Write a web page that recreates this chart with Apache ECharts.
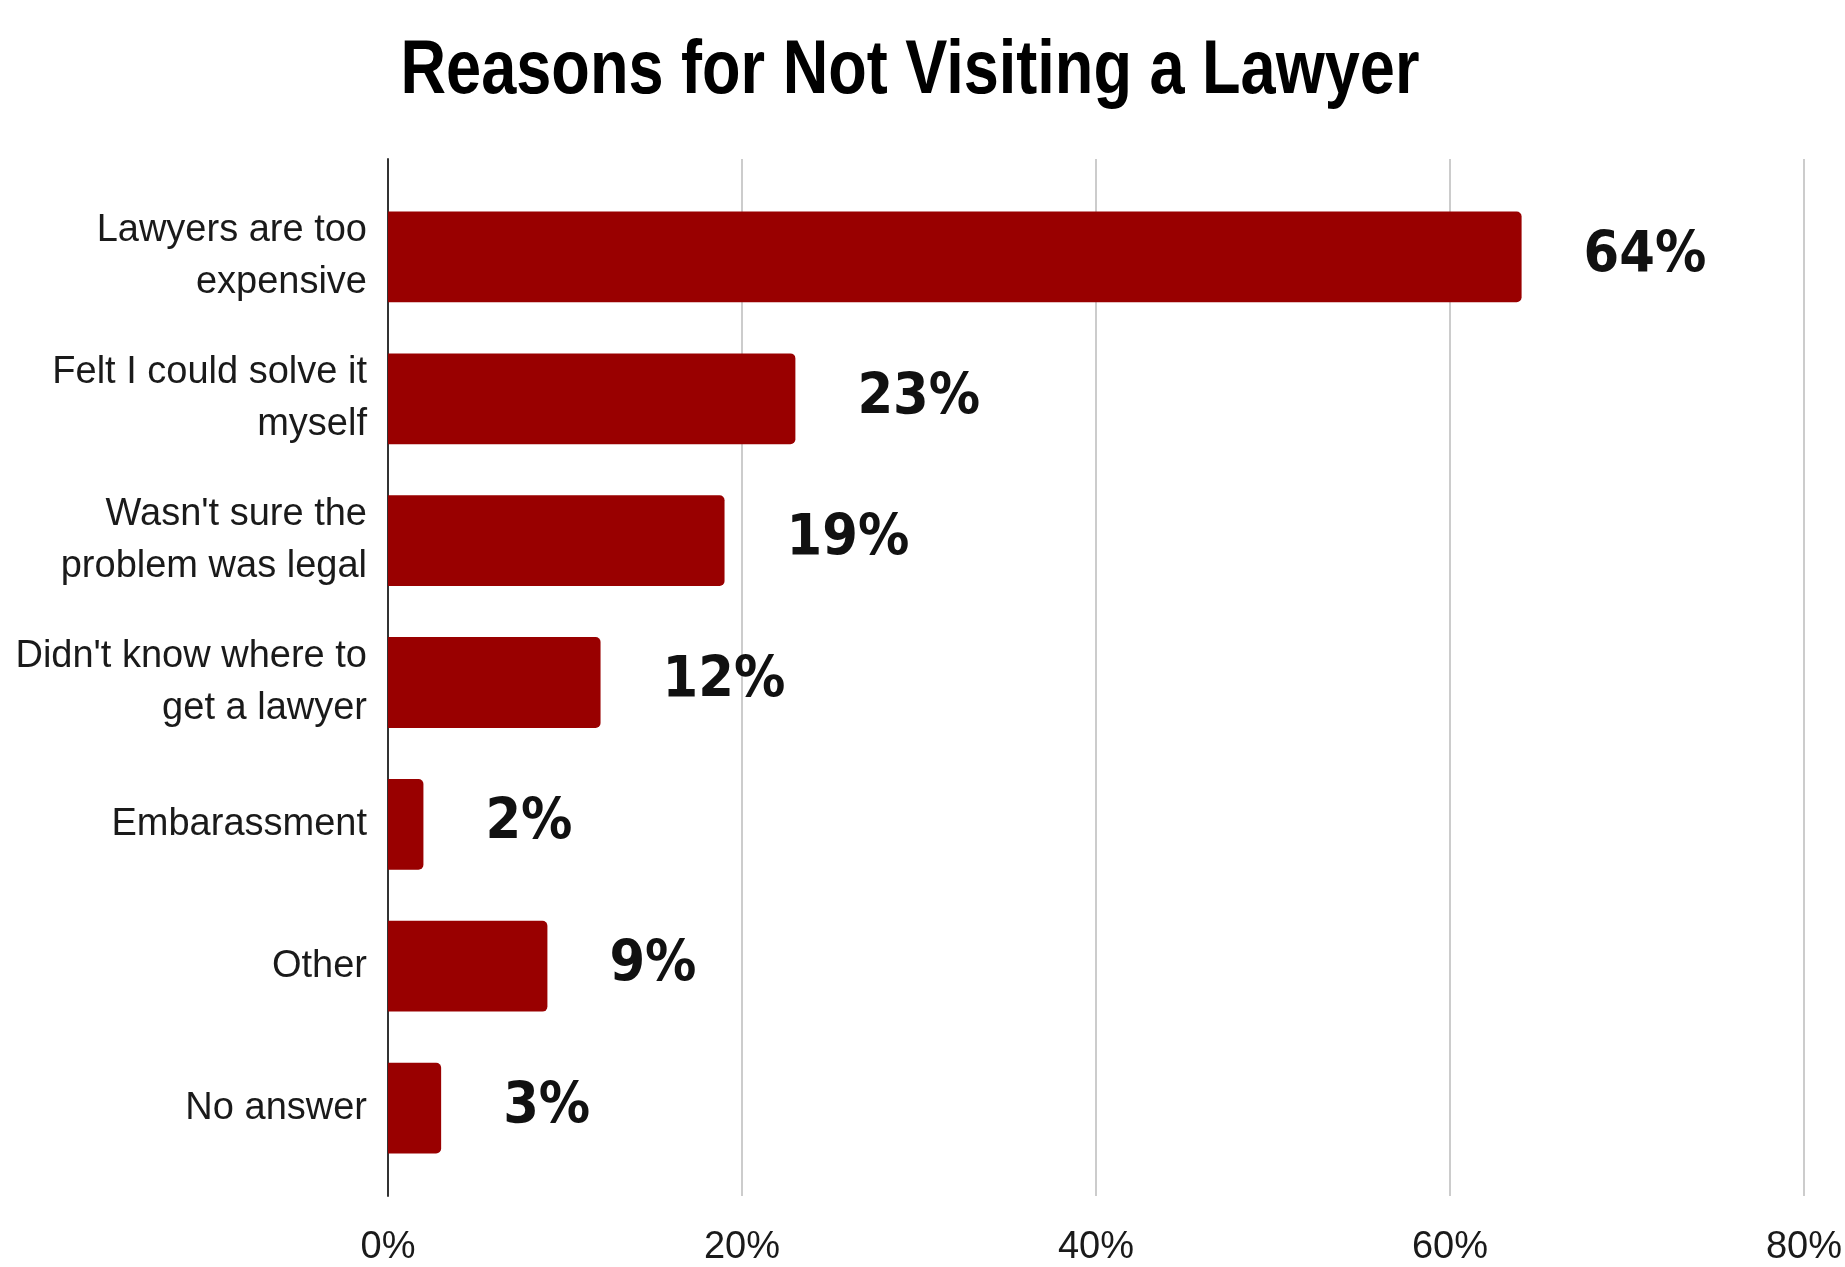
<!DOCTYPE html>
<html>
<head>
<meta charset="utf-8">
<script src="https://cdn.jsdelivr.net/npm/echarts@6/dist/echarts.min.js"></script>
<style>
html,body{margin:0;padding:0;background:#fff;}
#chart{width:1845px;height:1267px;}
</style>
</head>
<body>
<div id="chart"></div>
<script>
const titleText = 'Reasons for Not Visiting a Lawyer';
const categories = [
  'Lawyers are too\nexpensive',
  'Felt I could solve it\nmyself',
  "Wasn't sure the\nproblem was legal",
  "Didn't know where to\nget a lawyer",
  'Embarassment',
  'Other',
  'No answer'
];
const values = [64, 23, 19, 12, 2, 9, 3];
const xTicks = [0, 20, 40, 60, 80];

const condensed = "'DejaVu Sans Condensed', 'Liberation Sans', sans-serif";

const chart = echarts.init(document.getElementById('chart'), null, {renderer: 'canvas'});
chart.setOption({
  backgroundColor: '#ffffff',
  animation: false,
  graphic: [{
    type: 'text',
    x: 910, y: 72,
    scaleX: 0.83, scaleY: 1,
    style: {
      text: titleText,
      x: 0, y: 0,
      align: 'center', verticalAlign: 'middle',
      fontFamily: 'Liberation Sans', fontWeight: 'bold',
      fontSize: 76, fill: '#000'
    }
  }],
  grid: [
    {left: 388, right: 40, top: 159, bottom: 65},
    {left: 388, right: 40, top: 186, bottom: 88}
  ],
  xAxis: [
    {
      gridIndex: 0, type: 'value',
      min: xTicks[0], max: xTicks[xTicks.length - 1], interval: 20,
      axisLine: {show: false}, axisTick: {show: false},
      splitLine: {show: true, lineStyle: {color: '#cccccc', width: 2}},
      axisLabel: {
        formatter: '{value}%', margin: 33,
        fontFamily: 'Liberation Sans', fontSize: 38, color: '#1a1a1a'
      }
    },
    {
      gridIndex: 1, type: 'value',
      min: xTicks[0], max: xTicks[xTicks.length - 1],
      show: false
    }
  ],
  yAxis: [
    {
      gridIndex: 0, type: 'value',
      axisLine: {show: true, lineStyle: {color: '#333', width: 2}},
      axisTick: {show: false}, axisLabel: {show: false}, splitLine: {show: false}
    },
    {
      gridIndex: 1, type: 'category', inverse: true,
      data: categories,
      axisLine: {show: false}, axisTick: {show: false},
      axisLabel: {
        margin: 21, align: 'right',
        fontFamily: 'Liberation Sans', fontSize: 38, lineHeight: 52, color: '#1a1a1a'
      }
    }
  ],
  series: [{
    type: 'bar',
    xAxisIndex: 1, yAxisIndex: 1,
    data: values,
    barWidth: '64%',
    itemStyle: {color: '#990000', borderRadius: [0, 5, 5, 0]},
    label: {
      show: true, position: 'right', distance: 62,
      formatter: '{c}%',
      fontFamily: condensed, fontWeight: 'bold',
      fontSize: 57, color: '#111'
    }
  }]
});
</script>
</body>
</html>
